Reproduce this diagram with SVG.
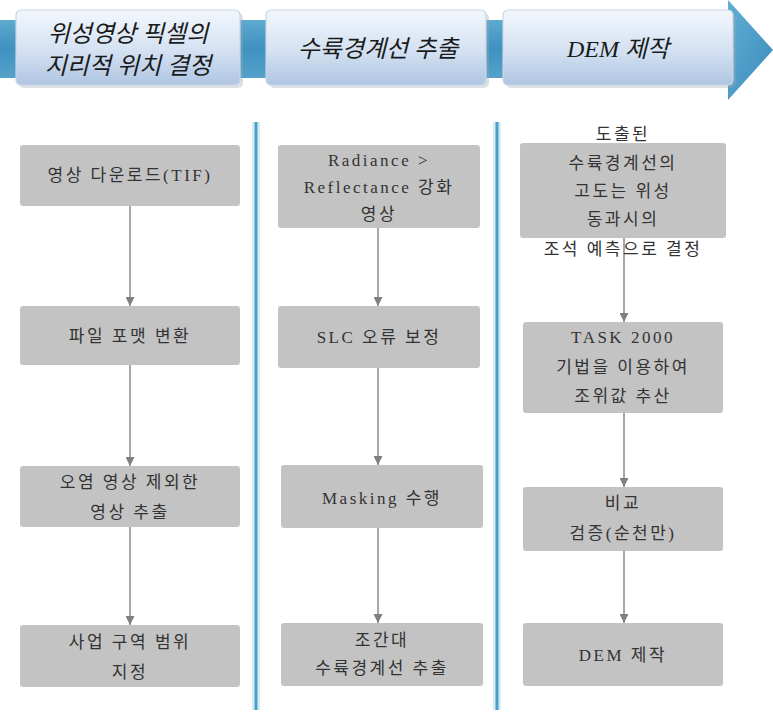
<svg xmlns="http://www.w3.org/2000/svg" width="773" height="721" viewBox="0 0 773 721">
<defs>
<linearGradient id="band" x1="0" y1="0" x2="0" y2="1">
<stop offset="0" stop-color="#5eaad0"/>
<stop offset="0.5" stop-color="#3f91c0"/>
<stop offset="1" stop-color="#55a2cb"/>
</linearGradient>
<linearGradient id="head" x1="0" y1="0" x2="1" y2="1">
<stop offset="0" stop-color="#62aed4"/>
<stop offset="1" stop-color="#3a8cbc"/>
</linearGradient>
<linearGradient id="tbox" x1="0" y1="0" x2="0" y2="1">
<stop offset="0" stop-color="#f3f7fc"/>
<stop offset="0.55" stop-color="#d3e1f2"/>
<stop offset="1" stop-color="#afc5e2"/>
</linearGradient>
<marker id="ah" viewBox="0 0 10 10" refX="10" refY="5" markerWidth="9" markerHeight="9" markerUnits="userSpaceOnUse" orient="auto">
<path d="M0,0 L10,5 L0,10 Z" fill="#7f7f7f"/>
</marker>
</defs>
<style>
.top{fill:url(#tbox);stroke:#c9d6e6;stroke-width:1.2}
.tsh{fill:#9aa6b2;opacity:0.35}
.tt{font-family:"Liberation Serif","Noto Sans CJK KR",serif;font-style:italic;font-size:24px;fill:#1a1a1a;text-anchor:middle}
.box{fill:#c3c3c3}
.bt{font-family:"Liberation Serif","Noto Sans CJK KR",serif;font-size:17px;fill:#333;text-anchor:middle;letter-spacing:2.5px}
.div{stroke:#4a9fc6;stroke-width:3}
.glow{stroke:#d6ecf5;stroke-width:8}
.ar{stroke:#8a8a8a;stroke-width:1.5;fill:none;marker-end:url(#ah)}
</style>
<rect width="773" height="721" fill="#ffffff"/>

<g id="banner">
<rect x="0" y="20" width="745" height="58" fill="url(#band)"/>
<polygon points="728,0 773,50 728,100" fill="url(#head)"/>
</g>

<g id="step1">
<rect class="tsh" x="19" y="13" width="224" height="75" rx="5"/>
<rect class="top" x="16" y="10" width="224" height="75" rx="5"/>
<text class="tt" x="128" y="42">위성영상 픽셀의</text>
<text class="tt" x="128" y="74">지리적 위치 결정</text>
</g>
<g id="step2">
<rect class="tsh" x="269" y="13" width="220" height="75" rx="5"/>
<rect class="top" x="266" y="10" width="220" height="75" rx="5"/>
<text class="tt" x="378" y="57">수륙경계선 추출</text>
</g>
<g id="step3">
<rect class="tsh" x="506" y="13" width="230" height="75" rx="5"/>
<rect class="top" x="503" y="10" width="230" height="75" rx="5"/>
<text class="tt" x="618" y="57">DEM 제작</text>
</g>

<g id="dividers">
<line class="glow" x1="256" y1="122" x2="256" y2="710"/>
<line class="div" x1="256" y1="122" x2="256" y2="710"/>
<line class="glow" x1="497" y1="122" x2="497" y2="710"/>
<line class="div" x1="497" y1="122" x2="497" y2="710"/>
</g>

<g id="connectors">
<line class="ar" x1="130" y1="206" x2="130" y2="306"/>
<line class="ar" x1="130" y1="365" x2="130" y2="466"/>
<line class="ar" x1="130" y1="527" x2="130" y2="625"/>
<line class="ar" x1="378" y1="228" x2="378" y2="306"/>
<line class="ar" x1="378" y1="368" x2="378" y2="465"/>
<line class="ar" x1="378" y1="528" x2="378" y2="623"/>
<line class="ar" x1="624" y1="238" x2="624" y2="322"/>
<line class="ar" x1="624" y1="413" x2="624" y2="487"/>
<line class="ar" x1="624" y1="551" x2="624" y2="623"/>
</g>

<g id="n1a"><rect class="box" x="20" y="145" width="220" height="61" rx="3"/><text class="bt" x="130" y="181">영상 다운로드(TIF)</text></g>
<g id="n1b"><rect class="box" x="20" y="306" width="220" height="59" rx="3"/><text class="bt" x="130" y="342">파일 포맷 변환</text></g>
<g id="n1c"><rect class="box" x="20" y="466" width="220" height="61" rx="3"/><text class="bt" x="130" y="488">오염 영상 제외한</text><text class="bt" x="130" y="518">영상 추출</text></g>
<g id="n1d"><rect class="box" x="20" y="625" width="220" height="62" rx="3"/><text class="bt" x="130" y="648">사업 구역 범위</text><text class="bt" x="130" y="678">지정</text></g>

<g id="n2a"><rect class="box" x="278" y="145" width="202" height="83" rx="3"/><text class="bt" x="379" y="166">Radiance &gt;</text><text class="bt" x="379" y="193">Reflectance 강화</text><text class="bt" x="379" y="220">영상</text></g>
<g id="n2b"><rect class="box" x="278" y="306" width="202" height="62" rx="3"/><text class="bt" x="379" y="343">SLC 오류 보정</text></g>
<g id="n2c"><rect class="box" x="281" y="465" width="202" height="63" rx="3"/><text class="bt" x="382" y="504">Masking 수행</text></g>
<g id="n2d"><rect class="box" x="281" y="623" width="202" height="63" rx="3"/><text class="bt" x="382" y="646">조간대</text><text class="bt" x="382" y="674">수륙경계선 추출</text></g>

<g id="n3a"><rect class="box" x="520" y="143" width="206" height="95" rx="3"/><text class="bt" x="623" y="140">도출된</text><text class="bt" x="623" y="169">수륙경계선의</text><text class="bt" x="623" y="197">고도는 위성</text><text class="bt" x="623" y="225">동과시의</text><text class="bt" x="623" y="255">조석 예측으로 결정</text></g>
<g id="n3b"><rect class="box" x="523" y="322" width="200" height="91" rx="3"/><text class="bt" x="623" y="343">TASK 2000</text><text class="bt" x="623" y="373">기법을 이용하여</text><text class="bt" x="623" y="402">조위값 추산</text></g>
<g id="n3c"><rect class="box" x="523" y="487" width="200" height="64" rx="3"/><text class="bt" x="623" y="509">비교</text><text class="bt" x="623" y="539">검증(순천만)</text></g>
<g id="n3d"><rect class="box" x="523" y="623" width="200" height="63" rx="3"/><text class="bt" x="623" y="661">DEM 제작</text></g>
</svg>
